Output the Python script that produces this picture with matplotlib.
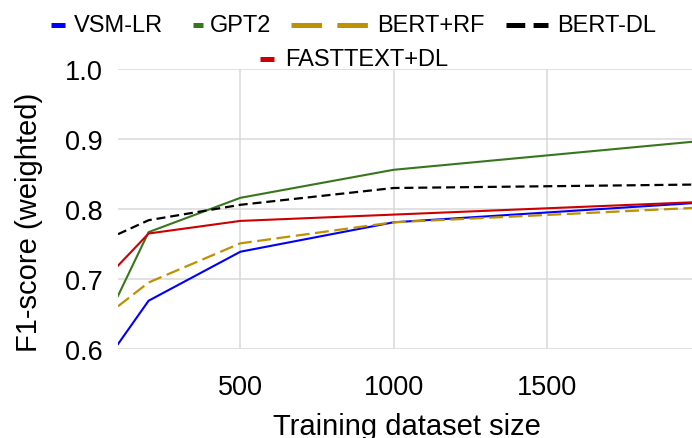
import matplotlib
matplotlib.use("Agg")
import matplotlib.pyplot as plt
from matplotlib.lines import Line2D

plt.rcParams['font.family'] = ['Liberation Sans', 'DejaVu Sans']
plt.rcParams['lines.scale_dashes'] = False

# --- data ---
sizes = [100, 200, 500, 1000, 2000]
vsm_lr = [0.607, 0.669, 0.739, 0.781, 0.809]
gpt2 = [0.676, 0.767, 0.816, 0.856, 0.897]
bert_rf = [0.661, 0.695, 0.751, 0.781, 0.802]
bert_dl = [0.764, 0.784, 0.806, 0.830, 0.835]
fasttext_dl = [0.719, 0.765, 0.783, 0.792, 0.810]

x_ticks = [500, 1000, 1500]
y_ticks = [0.6, 0.7, 0.8, 0.9, 1.0]

W, H = 692, 439
fig = plt.figure(figsize=(W / 100, H / 100), dpi=100)
fig.patch.set_facecolor('white')

# axes box in pixels: left 118, right 692, top 70, bottom 350
ax = fig.add_axes([118 / W, (H - 350) / H, 574 / W, 280 / H])

blue = '#0000ff'
green = '#38761d'
gold = '#bf9000'
red = '#cc0000'

ax.plot(sizes, vsm_lr, color=blue, lw=1.5)
ax.plot(sizes, gpt2, color=green, lw=1.5)
ax.plot(sizes, bert_rf, color=gold, lw=1.6, dashes=(10, 4))
ax.plot(sizes, bert_dl, color='black', lw=1.6, dashes=(6.5, 3.5))
ax.plot(sizes, fasttext_dl, color=red, lw=1.5)

ax.set_xlim(100, 1975)
ax.set_ylim(0.6, 1.0)
ax.set_xticks(x_ticks)
ax.set_yticks(y_ticks)
ax.set_yticklabels([f'{v:.1f}' for v in y_ticks])
ax.tick_params(axis='both', length=0, labelsize=19.5)
ax.tick_params(axis='y', pad=11)
ax.tick_params(axis='x', pad=18)
ax.grid(True, color='#d9d9d9', lw=1.1)
ax.set_axisbelow(True)
for s in ax.spines.values():
    s.set_visible(False)

ax.set_xlabel('Training dataset size', fontsize=21)
ax.xaxis.set_label_coords(0.503, -0.225)
ax.xaxis.label.set_va('top')
ax.set_ylabel('F1-score (weighted)', fontsize=21)
ax.yaxis.set_label_coords(-0.131, 0.457)

# --- legend drawn by hand to copy the uneven handle lengths ---
def px(x, y):
    return x / W, (H - y) / H

legend_items = [
    # label, colour, dash pattern, handle start, handle end, text x, row y
    ('VSM-LR', blue, None, 51, 65, 74, 26),
    ('GPT2', green, None, 193, 203, 210, 26),
    ('BERT+RF', gold, (22, 11), 291, 368, 377, 26),
    ('BERT-DL', 'black', (13.5, 6), 506, 548, 557, 26),
    ('FASTTEXT+DL', red, None, 260, 274, 285, 60),
]
for label, col, dash, x0, x1, tx, ty in legend_items:
    (fx0, fy), (fx1, _) = px(x0, ty), px(x1, ty)
    ln = Line2D([fx0, fx1], [fy, fy], color=col, lw=3.6,
                transform=fig.transFigure, solid_capstyle='butt', dash_capstyle='butt')
    if dash:
        ln.set_dashes(dash)
    fig.add_artist(ln)
    fig.text(*px(tx, ty), label, fontsize=17, va='center', ha='left')

fig.savefig('out.png', dpi=100)
